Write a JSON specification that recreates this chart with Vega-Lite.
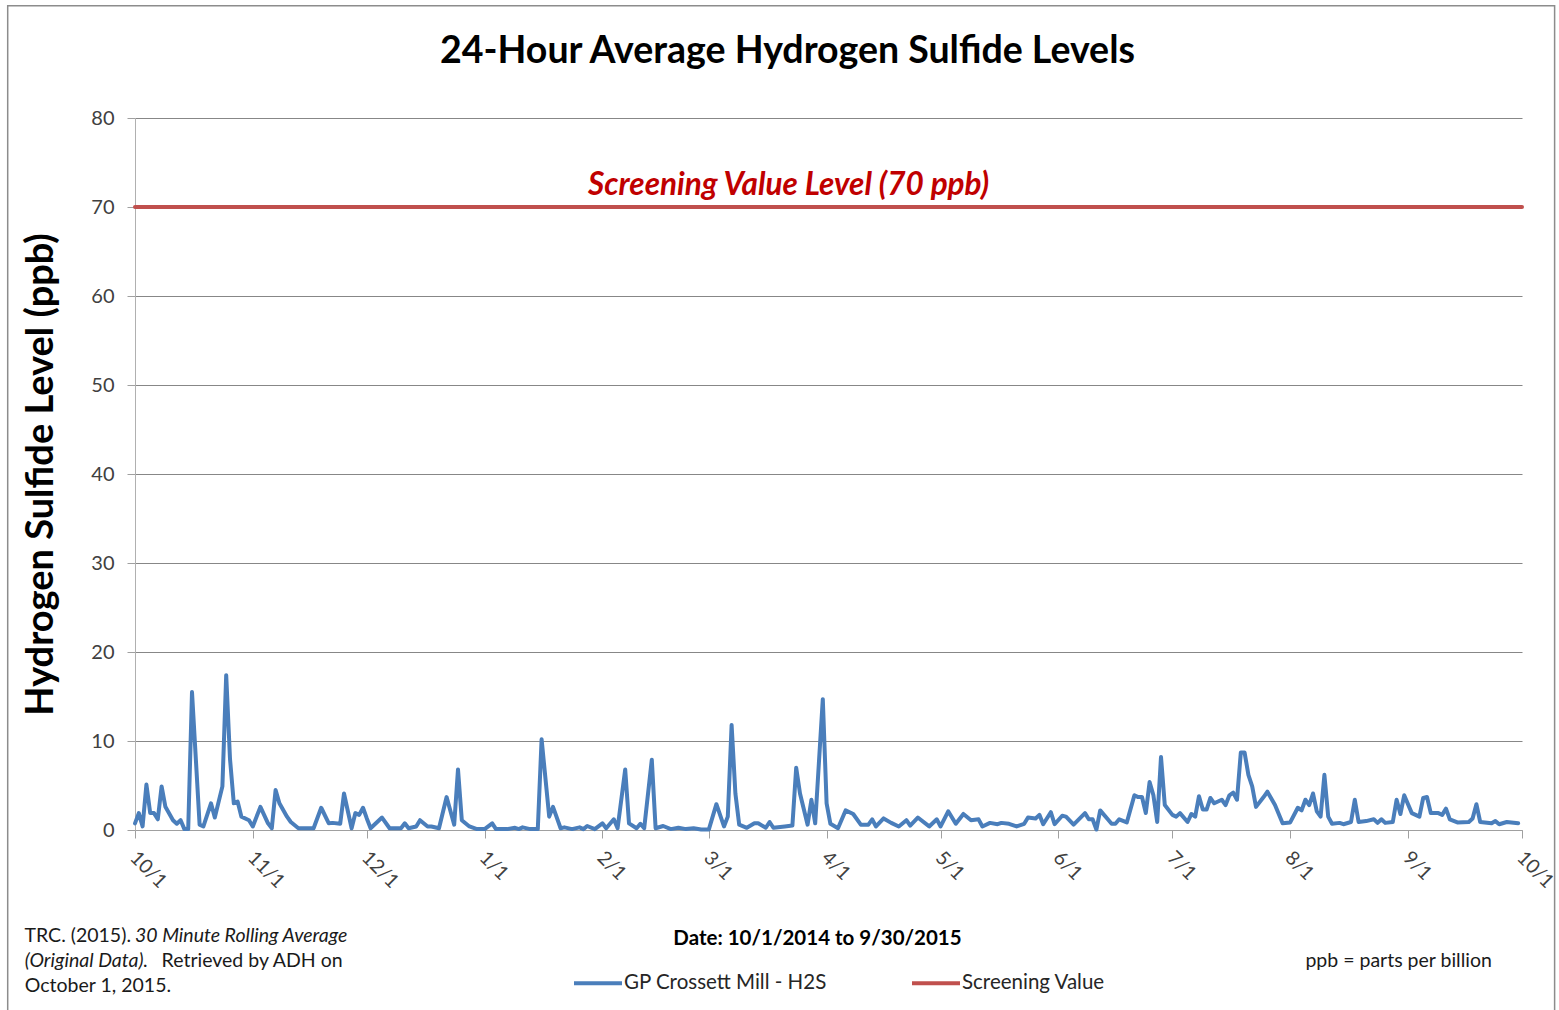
{
  "$schema": "https://vega.github.io/schema/vega-lite/v6.json",
  "autosize": "none",
  "width": 1387,
  "height": 712,
  "padding": {"left": 135, "top": 118, "right": 37, "bottom": 180},
  "background": "white",
  "config": {
    "font": "Lato",
    "view": {"stroke": null},
    "axis": {"labelFont": "Lato", "titleFont": "Lato"}
  },
  "title": {
    "text": "24-Hour Average Hydrogen Sulfide Levels",
    "font": "Lato",
    "fontSize": 37.5,
    "fontWeight": "bold",
    "color": "#000000",
    "anchor": "middle",
    "dx": -41,
    "offset": -65
  },
  "datasets": {
    "h2s": [
      {"date": "2014-10-01", "value": 0.75, "series": "GP Crossett Mill - H2S"},
      {"date": "2014-10-02", "value": 1.9, "series": "GP Crossett Mill - H2S"},
      {"date": "2014-10-03", "value": 0.4, "series": "GP Crossett Mill - H2S"},
      {"date": "2014-10-04", "value": 5.1, "series": "GP Crossett Mill - H2S"},
      {"date": "2014-10-05", "value": 1.9, "series": "GP Crossett Mill - H2S"},
      {"date": "2014-10-06", "value": 1.9, "series": "GP Crossett Mill - H2S"},
      {"date": "2014-10-07", "value": 1.2, "series": "GP Crossett Mill - H2S"},
      {"date": "2014-10-08", "value": 4.9, "series": "GP Crossett Mill - H2S"},
      {"date": "2014-10-09", "value": 2.6, "series": "GP Crossett Mill - H2S"},
      {"date": "2014-10-11", "value": 1.1, "series": "GP Crossett Mill - H2S"},
      {"date": "2014-10-12", "value": 0.7, "series": "GP Crossett Mill - H2S"},
      {"date": "2014-10-13", "value": 1.1, "series": "GP Crossett Mill - H2S"},
      {"date": "2014-10-14", "value": 0.1, "series": "GP Crossett Mill - H2S"},
      {"date": "2014-10-15", "value": 0.1, "series": "GP Crossett Mill - H2S"},
      {"date": "2014-10-16", "value": 15.5, "series": "GP Crossett Mill - H2S"},
      {"date": "2014-10-18", "value": 0.6, "series": "GP Crossett Mill - H2S"},
      {"date": "2014-10-19", "value": 0.4, "series": "GP Crossett Mill - H2S"},
      {"date": "2014-10-21", "value": 3.0, "series": "GP Crossett Mill - H2S"},
      {"date": "2014-10-22", "value": 1.4, "series": "GP Crossett Mill - H2S"},
      {"date": "2014-10-24", "value": 4.9, "series": "GP Crossett Mill - H2S"},
      {"date": "2014-10-25", "value": 17.4, "series": "GP Crossett Mill - H2S"},
      {"date": "2014-10-26", "value": 8.0, "series": "GP Crossett Mill - H2S"},
      {"date": "2014-10-27", "value": 3.0, "series": "GP Crossett Mill - H2S"},
      {"date": "2014-10-28", "value": 3.2, "series": "GP Crossett Mill - H2S"},
      {"date": "2014-10-29", "value": 1.5, "series": "GP Crossett Mill - H2S"},
      {"date": "2014-10-31", "value": 1.1, "series": "GP Crossett Mill - H2S"},
      {"date": "2014-11-01", "value": 0.4, "series": "GP Crossett Mill - H2S"},
      {"date": "2014-11-03", "value": 2.6, "series": "GP Crossett Mill - H2S"},
      {"date": "2014-11-05", "value": 0.75, "series": "GP Crossett Mill - H2S"},
      {"date": "2014-11-06", "value": 0.2, "series": "GP Crossett Mill - H2S"},
      {"date": "2014-11-07", "value": 4.5, "series": "GP Crossett Mill - H2S"},
      {"date": "2014-11-08", "value": 3.0, "series": "GP Crossett Mill - H2S"},
      {"date": "2014-11-10", "value": 1.5, "series": "GP Crossett Mill - H2S"},
      {"date": "2014-11-11", "value": 0.9, "series": "GP Crossett Mill - H2S"},
      {"date": "2014-11-13", "value": 0.2, "series": "GP Crossett Mill - H2S"},
      {"date": "2014-11-15", "value": 0.2, "series": "GP Crossett Mill - H2S"},
      {"date": "2014-11-17", "value": 0.2, "series": "GP Crossett Mill - H2S"},
      {"date": "2014-11-19", "value": 2.5, "series": "GP Crossett Mill - H2S"},
      {"date": "2014-11-21", "value": 0.75, "series": "GP Crossett Mill - H2S"},
      {"date": "2014-11-22", "value": 0.8, "series": "GP Crossett Mill - H2S"},
      {"date": "2014-11-24", "value": 0.7, "series": "GP Crossett Mill - H2S"},
      {"date": "2014-11-25", "value": 4.1, "series": "GP Crossett Mill - H2S"},
      {"date": "2014-11-27", "value": 0.2, "series": "GP Crossett Mill - H2S"},
      {"date": "2014-11-28", "value": 1.9, "series": "GP Crossett Mill - H2S"},
      {"date": "2014-11-29", "value": 1.7, "series": "GP Crossett Mill - H2S"},
      {"date": "2014-11-30", "value": 2.5, "series": "GP Crossett Mill - H2S"},
      {"date": "2014-12-01", "value": 1.3, "series": "GP Crossett Mill - H2S"},
      {"date": "2014-12-02", "value": 0.2, "series": "GP Crossett Mill - H2S"},
      {"date": "2014-12-05", "value": 1.4, "series": "GP Crossett Mill - H2S"},
      {"date": "2014-12-07", "value": 0.2, "series": "GP Crossett Mill - H2S"},
      {"date": "2014-12-10", "value": 0.2, "series": "GP Crossett Mill - H2S"},
      {"date": "2014-12-11", "value": 0.75, "series": "GP Crossett Mill - H2S"},
      {"date": "2014-12-12", "value": 0.2, "series": "GP Crossett Mill - H2S"},
      {"date": "2014-12-14", "value": 0.4, "series": "GP Crossett Mill - H2S"},
      {"date": "2014-12-15", "value": 1.1, "series": "GP Crossett Mill - H2S"},
      {"date": "2014-12-17", "value": 0.4, "series": "GP Crossett Mill - H2S"},
      {"date": "2014-12-18", "value": 0.4, "series": "GP Crossett Mill - H2S"},
      {"date": "2014-12-20", "value": 0.2, "series": "GP Crossett Mill - H2S"},
      {"date": "2014-12-22", "value": 3.7, "series": "GP Crossett Mill - H2S"},
      {"date": "2014-12-24", "value": 0.6, "series": "GP Crossett Mill - H2S"},
      {"date": "2014-12-25", "value": 6.8, "series": "GP Crossett Mill - H2S"},
      {"date": "2014-12-26", "value": 1.1, "series": "GP Crossett Mill - H2S"},
      {"date": "2014-12-28", "value": 0.4, "series": "GP Crossett Mill - H2S"},
      {"date": "2014-12-30", "value": 0.1, "series": "GP Crossett Mill - H2S"},
      {"date": "2015-01-01", "value": 0.1, "series": "GP Crossett Mill - H2S"},
      {"date": "2015-01-03", "value": 0.75, "series": "GP Crossett Mill - H2S"},
      {"date": "2015-01-04", "value": 0.1, "series": "GP Crossett Mill - H2S"},
      {"date": "2015-01-07", "value": 0.1, "series": "GP Crossett Mill - H2S"},
      {"date": "2015-01-09", "value": 0.25, "series": "GP Crossett Mill - H2S"},
      {"date": "2015-01-10", "value": 0.1, "series": "GP Crossett Mill - H2S"},
      {"date": "2015-01-11", "value": 0.3, "series": "GP Crossett Mill - H2S"},
      {"date": "2015-01-13", "value": 0.1, "series": "GP Crossett Mill - H2S"},
      {"date": "2015-01-15", "value": 0.1, "series": "GP Crossett Mill - H2S"},
      {"date": "2015-01-16", "value": 10.2, "series": "GP Crossett Mill - H2S"},
      {"date": "2015-01-18", "value": 1.5, "series": "GP Crossett Mill - H2S"},
      {"date": "2015-01-19", "value": 2.6, "series": "GP Crossett Mill - H2S"},
      {"date": "2015-01-21", "value": 0.2, "series": "GP Crossett Mill - H2S"},
      {"date": "2015-01-22", "value": 0.3, "series": "GP Crossett Mill - H2S"},
      {"date": "2015-01-24", "value": 0.1, "series": "GP Crossett Mill - H2S"},
      {"date": "2015-01-26", "value": 0.3, "series": "GP Crossett Mill - H2S"},
      {"date": "2015-01-27", "value": 0.1, "series": "GP Crossett Mill - H2S"},
      {"date": "2015-01-28", "value": 0.45, "series": "GP Crossett Mill - H2S"},
      {"date": "2015-01-30", "value": 0.1, "series": "GP Crossett Mill - H2S"},
      {"date": "2015-02-01", "value": 0.75, "series": "GP Crossett Mill - H2S"},
      {"date": "2015-02-02", "value": 0.2, "series": "GP Crossett Mill - H2S"},
      {"date": "2015-02-04", "value": 1.2, "series": "GP Crossett Mill - H2S"},
      {"date": "2015-02-05", "value": 0.2, "series": "GP Crossett Mill - H2S"},
      {"date": "2015-02-07", "value": 6.8, "series": "GP Crossett Mill - H2S"},
      {"date": "2015-02-08", "value": 0.75, "series": "GP Crossett Mill - H2S"},
      {"date": "2015-02-10", "value": 0.2, "series": "GP Crossett Mill - H2S"},
      {"date": "2015-02-11", "value": 0.7, "series": "GP Crossett Mill - H2S"},
      {"date": "2015-02-12", "value": 0.2, "series": "GP Crossett Mill - H2S"},
      {"date": "2015-02-14", "value": 7.9, "series": "GP Crossett Mill - H2S"},
      {"date": "2015-02-15", "value": 0.2, "series": "GP Crossett Mill - H2S"},
      {"date": "2015-02-17", "value": 0.45, "series": "GP Crossett Mill - H2S"},
      {"date": "2015-02-19", "value": 0.1, "series": "GP Crossett Mill - H2S"},
      {"date": "2015-02-21", "value": 0.25, "series": "GP Crossett Mill - H2S"},
      {"date": "2015-02-23", "value": 0.1, "series": "GP Crossett Mill - H2S"},
      {"date": "2015-02-25", "value": 0.2, "series": "GP Crossett Mill - H2S"},
      {"date": "2015-02-27", "value": 0.05, "series": "GP Crossett Mill - H2S"},
      {"date": "2015-03-01", "value": 0.05, "series": "GP Crossett Mill - H2S"},
      {"date": "2015-03-03", "value": 2.9, "series": "GP Crossett Mill - H2S"},
      {"date": "2015-03-05", "value": 0.4, "series": "GP Crossett Mill - H2S"},
      {"date": "2015-03-06", "value": 1.5, "series": "GP Crossett Mill - H2S"},
      {"date": "2015-03-07", "value": 11.8, "series": "GP Crossett Mill - H2S"},
      {"date": "2015-03-08", "value": 4.1, "series": "GP Crossett Mill - H2S"},
      {"date": "2015-03-09", "value": 0.6, "series": "GP Crossett Mill - H2S"},
      {"date": "2015-03-11", "value": 0.25, "series": "GP Crossett Mill - H2S"},
      {"date": "2015-03-13", "value": 0.75, "series": "GP Crossett Mill - H2S"},
      {"date": "2015-03-14", "value": 0.75, "series": "GP Crossett Mill - H2S"},
      {"date": "2015-03-16", "value": 0.25, "series": "GP Crossett Mill - H2S"},
      {"date": "2015-03-17", "value": 0.9, "series": "GP Crossett Mill - H2S"},
      {"date": "2015-03-18", "value": 0.25, "series": "GP Crossett Mill - H2S"},
      {"date": "2015-03-21", "value": 0.4, "series": "GP Crossett Mill - H2S"},
      {"date": "2015-03-23", "value": 0.5, "series": "GP Crossett Mill - H2S"},
      {"date": "2015-03-24", "value": 7.0, "series": "GP Crossett Mill - H2S"},
      {"date": "2015-03-25", "value": 4.1, "series": "GP Crossett Mill - H2S"},
      {"date": "2015-03-27", "value": 0.6, "series": "GP Crossett Mill - H2S"},
      {"date": "2015-03-28", "value": 3.4, "series": "GP Crossett Mill - H2S"},
      {"date": "2015-03-29", "value": 0.75, "series": "GP Crossett Mill - H2S"},
      {"date": "2015-03-31", "value": 14.7, "series": "GP Crossett Mill - H2S"},
      {"date": "2015-04-01", "value": 3.0, "series": "GP Crossett Mill - H2S"},
      {"date": "2015-04-02", "value": 0.7, "series": "GP Crossett Mill - H2S"},
      {"date": "2015-04-04", "value": 0.2, "series": "GP Crossett Mill - H2S"},
      {"date": "2015-04-06", "value": 2.2, "series": "GP Crossett Mill - H2S"},
      {"date": "2015-04-08", "value": 1.8, "series": "GP Crossett Mill - H2S"},
      {"date": "2015-04-10", "value": 0.6, "series": "GP Crossett Mill - H2S"},
      {"date": "2015-04-12", "value": 0.6, "series": "GP Crossett Mill - H2S"},
      {"date": "2015-04-13", "value": 1.2, "series": "GP Crossett Mill - H2S"},
      {"date": "2015-04-14", "value": 0.4, "series": "GP Crossett Mill - H2S"},
      {"date": "2015-04-16", "value": 1.3, "series": "GP Crossett Mill - H2S"},
      {"date": "2015-04-18", "value": 0.8, "series": "GP Crossett Mill - H2S"},
      {"date": "2015-04-20", "value": 0.4, "series": "GP Crossett Mill - H2S"},
      {"date": "2015-04-22", "value": 1.1, "series": "GP Crossett Mill - H2S"},
      {"date": "2015-04-23", "value": 0.5, "series": "GP Crossett Mill - H2S"},
      {"date": "2015-04-25", "value": 1.4, "series": "GP Crossett Mill - H2S"},
      {"date": "2015-04-28", "value": 0.4, "series": "GP Crossett Mill - H2S"},
      {"date": "2015-04-30", "value": 1.2, "series": "GP Crossett Mill - H2S"},
      {"date": "2015-05-01", "value": 0.4, "series": "GP Crossett Mill - H2S"},
      {"date": "2015-05-03", "value": 2.1, "series": "GP Crossett Mill - H2S"},
      {"date": "2015-05-05", "value": 0.7, "series": "GP Crossett Mill - H2S"},
      {"date": "2015-05-07", "value": 1.8, "series": "GP Crossett Mill - H2S"},
      {"date": "2015-05-09", "value": 1.1, "series": "GP Crossett Mill - H2S"},
      {"date": "2015-05-11", "value": 1.2, "series": "GP Crossett Mill - H2S"},
      {"date": "2015-05-12", "value": 0.4, "series": "GP Crossett Mill - H2S"},
      {"date": "2015-05-14", "value": 0.8, "series": "GP Crossett Mill - H2S"},
      {"date": "2015-05-16", "value": 0.65, "series": "GP Crossett Mill - H2S"},
      {"date": "2015-05-17", "value": 0.8, "series": "GP Crossett Mill - H2S"},
      {"date": "2015-05-19", "value": 0.7, "series": "GP Crossett Mill - H2S"},
      {"date": "2015-05-21", "value": 0.4, "series": "GP Crossett Mill - H2S"},
      {"date": "2015-05-23", "value": 0.7, "series": "GP Crossett Mill - H2S"},
      {"date": "2015-05-24", "value": 1.4, "series": "GP Crossett Mill - H2S"},
      {"date": "2015-05-26", "value": 1.3, "series": "GP Crossett Mill - H2S"},
      {"date": "2015-05-27", "value": 1.7, "series": "GP Crossett Mill - H2S"},
      {"date": "2015-05-28", "value": 0.65, "series": "GP Crossett Mill - H2S"},
      {"date": "2015-05-30", "value": 2.0, "series": "GP Crossett Mill - H2S"},
      {"date": "2015-05-31", "value": 0.65, "series": "GP Crossett Mill - H2S"},
      {"date": "2015-06-02", "value": 1.6, "series": "GP Crossett Mill - H2S"},
      {"date": "2015-06-03", "value": 1.5, "series": "GP Crossett Mill - H2S"},
      {"date": "2015-06-05", "value": 0.6, "series": "GP Crossett Mill - H2S"},
      {"date": "2015-06-08", "value": 1.9, "series": "GP Crossett Mill - H2S"},
      {"date": "2015-06-09", "value": 1.2, "series": "GP Crossett Mill - H2S"},
      {"date": "2015-06-10", "value": 1.2, "series": "GP Crossett Mill - H2S"},
      {"date": "2015-06-11", "value": 0.05, "series": "GP Crossett Mill - H2S"},
      {"date": "2015-06-12", "value": 2.2, "series": "GP Crossett Mill - H2S"},
      {"date": "2015-06-14", "value": 1.2, "series": "GP Crossett Mill - H2S"},
      {"date": "2015-06-15", "value": 0.7, "series": "GP Crossett Mill - H2S"},
      {"date": "2015-06-16", "value": 0.7, "series": "GP Crossett Mill - H2S"},
      {"date": "2015-06-17", "value": 1.2, "series": "GP Crossett Mill - H2S"},
      {"date": "2015-06-19", "value": 0.85, "series": "GP Crossett Mill - H2S"},
      {"date": "2015-06-21", "value": 3.9, "series": "GP Crossett Mill - H2S"},
      {"date": "2015-06-22", "value": 3.7, "series": "GP Crossett Mill - H2S"},
      {"date": "2015-06-23", "value": 3.7, "series": "GP Crossett Mill - H2S"},
      {"date": "2015-06-24", "value": 1.9, "series": "GP Crossett Mill - H2S"},
      {"date": "2015-06-25", "value": 5.4, "series": "GP Crossett Mill - H2S"},
      {"date": "2015-06-26", "value": 3.9, "series": "GP Crossett Mill - H2S"},
      {"date": "2015-06-27", "value": 0.9, "series": "GP Crossett Mill - H2S"},
      {"date": "2015-06-28", "value": 8.2, "series": "GP Crossett Mill - H2S"},
      {"date": "2015-06-29", "value": 2.8, "series": "GP Crossett Mill - H2S"},
      {"date": "2015-07-01", "value": 1.7, "series": "GP Crossett Mill - H2S"},
      {"date": "2015-07-02", "value": 1.5, "series": "GP Crossett Mill - H2S"},
      {"date": "2015-07-03", "value": 1.9, "series": "GP Crossett Mill - H2S"},
      {"date": "2015-07-05", "value": 0.9, "series": "GP Crossett Mill - H2S"},
      {"date": "2015-07-06", "value": 1.8, "series": "GP Crossett Mill - H2S"},
      {"date": "2015-07-07", "value": 1.5, "series": "GP Crossett Mill - H2S"},
      {"date": "2015-07-08", "value": 3.8, "series": "GP Crossett Mill - H2S"},
      {"date": "2015-07-09", "value": 2.3, "series": "GP Crossett Mill - H2S"},
      {"date": "2015-07-10", "value": 2.3, "series": "GP Crossett Mill - H2S"},
      {"date": "2015-07-11", "value": 3.6, "series": "GP Crossett Mill - H2S"},
      {"date": "2015-07-12", "value": 3.0, "series": "GP Crossett Mill - H2S"},
      {"date": "2015-07-14", "value": 3.4, "series": "GP Crossett Mill - H2S"},
      {"date": "2015-07-15", "value": 2.8, "series": "GP Crossett Mill - H2S"},
      {"date": "2015-07-16", "value": 3.9, "series": "GP Crossett Mill - H2S"},
      {"date": "2015-07-17", "value": 4.2, "series": "GP Crossett Mill - H2S"},
      {"date": "2015-07-18", "value": 3.4, "series": "GP Crossett Mill - H2S"},
      {"date": "2015-07-19", "value": 8.7, "series": "GP Crossett Mill - H2S"},
      {"date": "2015-07-20", "value": 8.7, "series": "GP Crossett Mill - H2S"},
      {"date": "2015-07-21", "value": 6.2, "series": "GP Crossett Mill - H2S"},
      {"date": "2015-07-22", "value": 4.9, "series": "GP Crossett Mill - H2S"},
      {"date": "2015-07-23", "value": 2.6, "series": "GP Crossett Mill - H2S"},
      {"date": "2015-07-25", "value": 3.7, "series": "GP Crossett Mill - H2S"},
      {"date": "2015-07-26", "value": 4.3, "series": "GP Crossett Mill - H2S"},
      {"date": "2015-07-28", "value": 2.8, "series": "GP Crossett Mill - H2S"},
      {"date": "2015-07-30", "value": 0.75, "series": "GP Crossett Mill - H2S"},
      {"date": "2015-08-01", "value": 0.85, "series": "GP Crossett Mill - H2S"},
      {"date": "2015-08-03", "value": 2.5, "series": "GP Crossett Mill - H2S"},
      {"date": "2015-08-04", "value": 2.2, "series": "GP Crossett Mill - H2S"},
      {"date": "2015-08-05", "value": 3.4, "series": "GP Crossett Mill - H2S"},
      {"date": "2015-08-06", "value": 2.8, "series": "GP Crossett Mill - H2S"},
      {"date": "2015-08-07", "value": 4.1, "series": "GP Crossett Mill - H2S"},
      {"date": "2015-08-08", "value": 2.1, "series": "GP Crossett Mill - H2S"},
      {"date": "2015-08-09", "value": 1.5, "series": "GP Crossett Mill - H2S"},
      {"date": "2015-08-10", "value": 6.2, "series": "GP Crossett Mill - H2S"},
      {"date": "2015-08-11", "value": 1.5, "series": "GP Crossett Mill - H2S"},
      {"date": "2015-08-12", "value": 0.7, "series": "GP Crossett Mill - H2S"},
      {"date": "2015-08-14", "value": 0.8, "series": "GP Crossett Mill - H2S"},
      {"date": "2015-08-15", "value": 0.65, "series": "GP Crossett Mill - H2S"},
      {"date": "2015-08-17", "value": 0.9, "series": "GP Crossett Mill - H2S"},
      {"date": "2015-08-18", "value": 3.4, "series": "GP Crossett Mill - H2S"},
      {"date": "2015-08-19", "value": 0.9, "series": "GP Crossett Mill - H2S"},
      {"date": "2015-08-21", "value": 1.0, "series": "GP Crossett Mill - H2S"},
      {"date": "2015-08-23", "value": 1.2, "series": "GP Crossett Mill - H2S"},
      {"date": "2015-08-24", "value": 0.8, "series": "GP Crossett Mill - H2S"},
      {"date": "2015-08-25", "value": 1.2, "series": "GP Crossett Mill - H2S"},
      {"date": "2015-08-26", "value": 0.8, "series": "GP Crossett Mill - H2S"},
      {"date": "2015-08-28", "value": 0.9, "series": "GP Crossett Mill - H2S"},
      {"date": "2015-08-29", "value": 3.4, "series": "GP Crossett Mill - H2S"},
      {"date": "2015-08-30", "value": 1.8, "series": "GP Crossett Mill - H2S"},
      {"date": "2015-08-31", "value": 3.9, "series": "GP Crossett Mill - H2S"},
      {"date": "2015-09-02", "value": 1.9, "series": "GP Crossett Mill - H2S"},
      {"date": "2015-09-04", "value": 1.5, "series": "GP Crossett Mill - H2S"},
      {"date": "2015-09-05", "value": 3.6, "series": "GP Crossett Mill - H2S"},
      {"date": "2015-09-06", "value": 3.7, "series": "GP Crossett Mill - H2S"},
      {"date": "2015-09-07", "value": 1.9, "series": "GP Crossett Mill - H2S"},
      {"date": "2015-09-09", "value": 1.9, "series": "GP Crossett Mill - H2S"},
      {"date": "2015-09-10", "value": 1.7, "series": "GP Crossett Mill - H2S"},
      {"date": "2015-09-11", "value": 2.4, "series": "GP Crossett Mill - H2S"},
      {"date": "2015-09-12", "value": 1.2, "series": "GP Crossett Mill - H2S"},
      {"date": "2015-09-14", "value": 0.85, "series": "GP Crossett Mill - H2S"},
      {"date": "2015-09-17", "value": 0.9, "series": "GP Crossett Mill - H2S"},
      {"date": "2015-09-18", "value": 1.3, "series": "GP Crossett Mill - H2S"},
      {"date": "2015-09-19", "value": 2.9, "series": "GP Crossett Mill - H2S"},
      {"date": "2015-09-20", "value": 0.9, "series": "GP Crossett Mill - H2S"},
      {"date": "2015-09-23", "value": 0.75, "series": "GP Crossett Mill - H2S"},
      {"date": "2015-09-24", "value": 1.0, "series": "GP Crossett Mill - H2S"},
      {"date": "2015-09-25", "value": 0.65, "series": "GP Crossett Mill - H2S"},
      {"date": "2015-09-27", "value": 0.9, "series": "GP Crossett Mill - H2S"},
      {"date": "2015-09-30", "value": 0.75, "series": "GP Crossett Mill - H2S"},
      {"date": "2014-10-01", "value": 70, "series": "Screening Value"},
      {"date": "2015-10-01", "value": 70, "series": "Screening Value"}
    ]
  },
  "layer": [
    {
      "data": {"name": "h2s"},
      "mark": {"type": "line", "strokeWidth": 4, "strokeJoin": "round", "strokeCap": "round"},
      "encoding": {
        "x": {
          "field": "date",
          "type": "temporal",
          "scale": {"type": "utc", "domain": [{"year": 2014, "month": 10, "date": 1, "utc": true}, {"year": 2015, "month": 10, "date": 1, "utc": true}]},
          "axis": {
            "values": [
              {"year": 2014, "month": 10, "date": 1, "utc": true},
              {"year": 2014, "month": 11, "date": 1, "utc": true},
              {"year": 2014, "month": 12, "date": 1, "utc": true},
              {"year": 2015, "month": 1, "date": 1, "utc": true},
              {"year": 2015, "month": 2, "date": 1, "utc": true},
              {"year": 2015, "month": 3, "date": 1, "utc": true},
              {"year": 2015, "month": 4, "date": 1, "utc": true},
              {"year": 2015, "month": 5, "date": 1, "utc": true},
              {"year": 2015, "month": 6, "date": 1, "utc": true},
              {"year": 2015, "month": 7, "date": 1, "utc": true},
              {"year": 2015, "month": 8, "date": 1, "utc": true},
              {"year": 2015, "month": 9, "date": 1, "utc": true},
              {"year": 2015, "month": 10, "date": 1, "utc": true}
            ],
            "format": "%-m/%-d",
            "labelAngle": 45,
            "labelAlign": "left",
            "labelBaseline": "top",
            "labelFontSize": 19.5,
            "labelColor": "#404040",
            "labelPadding": 10,
            "labelOffset": 4,
            "labelOverlap": false,
            "labelFlush": false,
            "tickSize": 8,
            "tickColor": "#A0A0A0",
            "domainColor": "#A0A0A0",
            "grid": false,
            "title": "Date: 10/1/2014 to 9/30/2015",
            "titleFontSize": 20.5,
            "titleFontWeight": "bold",
            "titleColor": "#000000",
            "titleBaseline": "alphabetic",
            "titleY": 114,
            "titleX": 682
          }
        },
        "y": {
          "field": "value",
          "type": "quantitative",
          "scale": {"domain": [0, 80], "nice": false, "zero": true},
          "axis": {
            "values": [0, 10, 20, 30, 40, 50, 60, 70, 80],
            "grid": true,
            "labelFontSize": 20,
            "labelColor": "#404040",
            "labelPadding": 13,
            "tickSize": 8,
            "tickColor": "#A0A0A0",
            "domainColor": "#B0B0B0",
            "gridColor": "#878787",
            "gridWidth": 1,
            "title": "Hydrogen Sulfide Level (ppb)",
            "titleFontSize": 38,
            "titleFontWeight": "bold",
            "titleColor": "#000000",
            "titlePadding": 30
          }
        },
        "color": {
          "field": "series",
          "type": "nominal",
          "scale": {"domain": ["GP Crossett Mill - H2S", "Screening Value"], "range": ["#4A7EBB", "#C0504D"]},
          "legend": {
            "title": null,
            "orient": "none",
            "direction": "horizontal",
            "legendX": 437,
            "legendY": 839,
            "symbolType": "stroke",
            "symbolSize": 2304,
            "symbolStrokeWidth": 4,
            "labelFontSize": 20.5,
            "labelColor": "#262626",
            "labelOffset": 0,
            "labelLimit": 400,
            "columnPadding": 77
          }
        }
      }
    },
    {
      "data": {"values": [{}]},
      "mark": {"type": "text", "text": "Screening Value Level (70 ppb)", "font": "Lato", "fontSize": 31.5, "fontWeight": "bold", "fontStyle": "italic", "color": "#C00000", "align": "center", "baseline": "alphabetic"},
      "encoding": {
        "x": {"datum": {"year": 2015, "month": 3, "date": 22, "utc": true}, "type": "temporal"},
        "y": {"datum": 71.4, "type": "quantitative"}
      }
    },
    {
      "data": {"values": [{}]},
      "mark": {"type": "text", "text": "TRC. (2015).", "font": "Lato", "fontSize": 19.5, "color": "#1A1A1A", "align": "right", "baseline": "alphabetic", "dx": -4},
      "encoding": {
        "x": {"datum": {"year": 2014, "month": 10, "date": 1, "utc": true}, "type": "temporal"},
        "y": {"datum": -12.6, "type": "quantitative"}
      }
    },
    {
      "data": {"values": [{}]},
      "mark": {"type": "text", "text": "30 Minute Rolling Average", "font": "Lato", "fontSize": 19.5, "fontStyle": "italic", "color": "#1A1A1A", "align": "left", "baseline": "alphabetic"},
      "encoding": {
        "x": {"datum": {"year": 2014, "month": 10, "date": 1, "utc": true}, "type": "temporal"},
        "y": {"datum": -12.6, "type": "quantitative"}
      }
    },
    {
      "data": {"values": [{}]},
      "mark": {"type": "text", "text": "(Original Data).", "font": "Lato", "fontSize": 19.5, "fontStyle": "italic", "color": "#1A1A1A", "align": "left", "baseline": "alphabetic"},
      "encoding": {
        "x": {"datum": {"year": 2014, "month": 9, "date": 2, "utc": true}, "type": "temporal"},
        "y": {"datum": -15.4, "type": "quantitative"}
      }
    },
    {
      "data": {"values": [{}]},
      "mark": {"type": "text", "text": "Retrieved by ADH on", "font": "Lato", "fontSize": 19.5, "color": "#1A1A1A", "align": "left", "baseline": "alphabetic"},
      "encoding": {
        "x": {"datum": {"year": 2014, "month": 10, "date": 8, "utc": true}, "type": "temporal"},
        "y": {"datum": -15.4, "type": "quantitative"}
      }
    },
    {
      "data": {"values": [{}]},
      "mark": {"type": "text", "text": "October 1, 2015.", "font": "Lato", "fontSize": 19.5, "color": "#1A1A1A", "align": "left", "baseline": "alphabetic"},
      "encoding": {
        "x": {"datum": {"year": 2014, "month": 9, "date": 2, "utc": true}, "type": "temporal"},
        "y": {"datum": -18.2, "type": "quantitative"}
      }
    },
    {
      "data": {"values": [{}]},
      "mark": {"type": "text", "text": "ppb = parts per billion", "font": "Lato", "fontSize": 19.5, "color": "#1A1A1A", "align": "left", "baseline": "alphabetic"},
      "encoding": {
        "x": {"datum": {"year": 2015, "month": 8, "date": 5, "utc": true}, "type": "temporal"},
        "y": {"datum": -15.4, "type": "quantitative"}
      }
    },
    {
      "data": {"values": [{}]},
      "mark": {"type": "rect", "fillOpacity": 0, "stroke": "#8C8C8C", "strokeWidth": 1.5},
      "encoding": {
        "x": {"datum": {"year": 2014, "month": 8, "date": 28, "hours": 12, "utc": true}, "type": "temporal"},
        "x2": {"datum": {"year": 2015, "month": 10, "date": 9, "hours": 14, "utc": true}},
        "y": {"datum": 92.6, "type": "quantitative"},
        "y2": {"datum": -21}
      }
    }
  ]
}
